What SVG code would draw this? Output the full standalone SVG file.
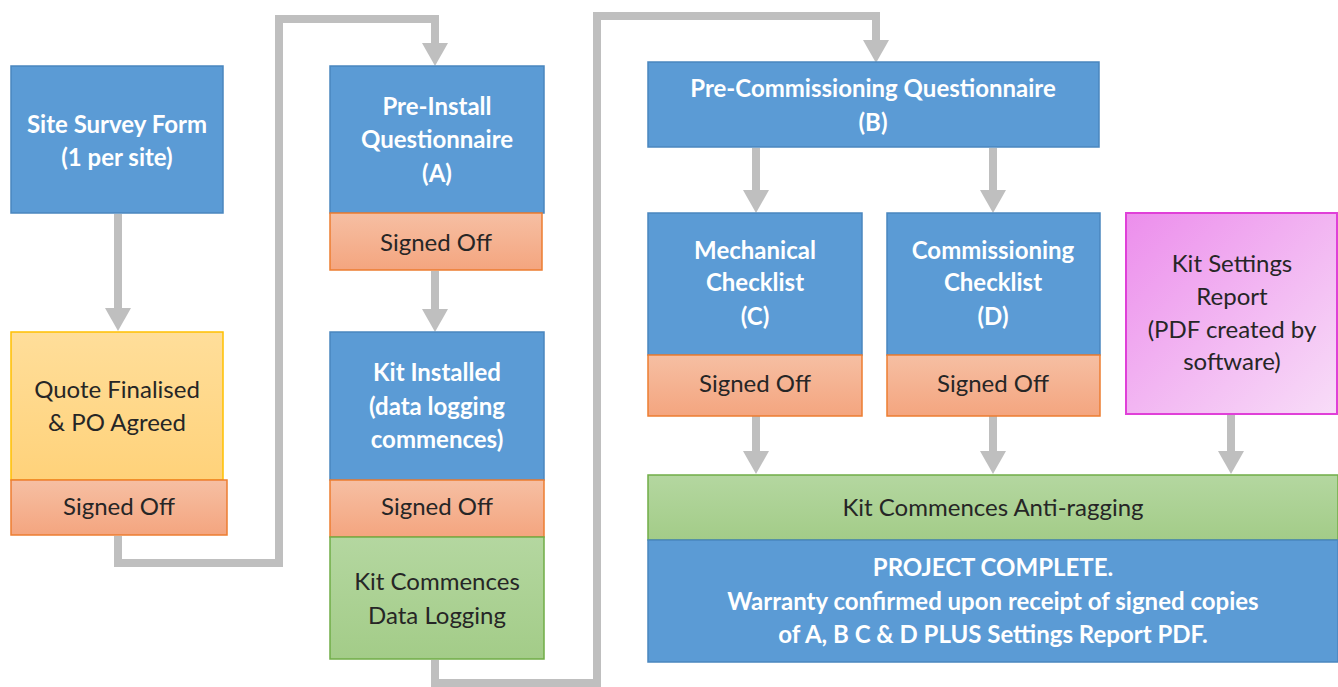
<svg xmlns="http://www.w3.org/2000/svg" width="1338" height="687" viewBox="0 0 1338 687">
<defs>
<style>
.blue{fill:#5B9BD5;stroke:#4A86BE;stroke-width:1.5}
.sal{fill:url(#gSal);stroke:#ED7D31;stroke-width:1.5}
.yel{fill:url(#gYel);stroke:#FFC000;stroke-width:1.5}
.grn{fill:url(#gGrn);stroke:#70AD47;stroke-width:1.5}
.pnk{fill:url(#gPnk);stroke:#E040D8;stroke-width:2}
.tw{font-family:Lato,"Liberation Sans",sans-serif;font-size:24px;font-weight:bold;fill:#FFFFFF;text-anchor:middle}
.td{font-family:Lato,"Liberation Sans",sans-serif;font-size:24px;fill:#262626;text-anchor:middle}
.conn{fill:none;stroke:#BFBFBF;stroke-width:8;marker-end:url(#ah)}
</style>
<linearGradient id="gSal" x1="0" y1="0" x2="0" y2="1"><stop offset="0" stop-color="#F6BFA3"/><stop offset="1" stop-color="#F4A57F"/></linearGradient>
<linearGradient id="gYel" x1="0" y1="0" x2="0" y2="1"><stop offset="0" stop-color="#FFDE9A"/><stop offset="1" stop-color="#FFD27A"/></linearGradient>
<linearGradient id="gGrn" x1="0" y1="0" x2="0" y2="1"><stop offset="0" stop-color="#B4D7A0"/><stop offset="1" stop-color="#A3CC88"/></linearGradient>
<linearGradient id="gPnk" x1="0" y1="0" x2="1" y2="1"><stop offset="0" stop-color="#EC8EEC"/><stop offset="1" stop-color="#F8DDF8"/></linearGradient>
<marker id="ah" markerUnits="userSpaceOnUse" markerWidth="24" markerHeight="26" refX="0" refY="13" orient="auto">
<path d="M0,0 L23,13 L0,26 z" fill="#BFBFBF"/>
</marker>
</defs>
<rect width="1338" height="687" fill="#FFFFFF"/>

<g id="connectors">
<path class="conn" d="M118,214 V308"/>
<path class="conn" d="M435,271 V309"/>
<path class="conn" d="M118,536 V563 H279 V19 H435 V43"/>
<path class="conn" d="M435,660 V683 H597 V16 H876 V40"/>
<path class="conn" d="M756,148 V190"/>
<path class="conn" d="M993,148 V190"/>
<path class="conn" d="M756,416 V451"/>
<path class="conn" d="M993,416 V451"/>
<path class="conn" d="M1231,415 V451"/>
</g>

<g id="site-survey">
<rect class="blue" x="11" y="66" width="212" height="147"/>
<text class="tw" x="117" y="133">Site Survey Form</text>
<text class="tw" x="117" y="166">(1 per site)</text>
</g>

<g id="quote">
<rect class="yel" x="11" y="332" width="212" height="148"/>
<text class="td" x="117" y="398">Quote Finalised</text>
<text class="td" x="117" y="431">&amp; PO Agreed</text>
</g>

<g id="signed-off-1">
<rect class="sal" x="11" y="480" width="216" height="55"/>
<text class="td" x="119" y="515">Signed Off</text>
</g>

<g id="pre-install">
<rect class="blue" x="330" y="66" width="214" height="147"/>
<text class="tw" x="437" y="115">Pre-Install</text>
<text class="tw" x="437" y="148">Questionnaire</text>
<text class="tw" x="437" y="182">(A)</text>
</g>

<g id="signed-off-a">
<rect class="sal" x="330" y="213" width="212" height="57"/>
<text class="td" x="436" y="251">Signed Off</text>
</g>

<g id="kit-installed">
<rect class="blue" x="330" y="332" width="214" height="148"/>
<text class="tw" x="437" y="381">Kit Installed</text>
<text class="tw" x="437" y="415">(data logging</text>
<text class="tw" x="437" y="448">commences)</text>
</g>

<g id="signed-off-2">
<rect class="sal" x="330" y="480" width="214" height="57"/>
<text class="td" x="437" y="515">Signed Off</text>
</g>

<g id="data-logging">
<rect class="grn" x="330" y="537" width="214" height="122"/>
<text class="td" x="437" y="590">Kit Commences</text>
<text class="td" x="437" y="624">Data Logging</text>
</g>

<g id="pre-commissioning">
<rect class="blue" x="648" y="62" width="451" height="85"/>
<text class="tw" x="873" y="97">Pre-Commissioning Questionnaire</text>
<text class="tw" x="873" y="131">(B)</text>
</g>

<g id="mechanical">
<rect class="blue" x="648" y="213" width="214" height="142"/>
<text class="tw" x="755" y="259">Mechanical</text>
<text class="tw" x="755" y="291">Checklist</text>
<text class="tw" x="755" y="325">(C)</text>
</g>

<g id="signed-off-c">
<rect class="sal" x="648" y="355" width="214" height="61"/>
<text class="td" x="755" y="392">Signed Off</text>
</g>

<g id="commissioning">
<rect class="blue" x="887" y="213" width="213" height="142"/>
<text class="tw" x="993" y="259">Commissioning</text>
<text class="tw" x="993" y="291">Checklist</text>
<text class="tw" x="993" y="325">(D)</text>
</g>

<g id="signed-off-d">
<rect class="sal" x="887" y="355" width="213" height="61"/>
<text class="td" x="993" y="392">Signed Off</text>
</g>

<g id="kit-settings">
<rect class="pnk" x="1126" y="213" width="211" height="201"/>
<text class="td" x="1232" y="272">Kit Settings</text>
<text class="td" x="1232" y="305">Report</text>
<text class="td" x="1232" y="338">(PDF created by</text>
<text class="td" x="1232" y="370">software)</text>
</g>

<g id="anti-ragging">
<rect class="grn" x="648" y="475" width="690" height="65"/>
<text class="td" x="993" y="516">Kit Commences Anti-ragging</text>
</g>

<g id="project-complete">
<rect class="blue" x="648" y="540" width="690" height="122"/>
<text class="tw" x="993" y="576">PROJECT COMPLETE.</text>
<text class="tw" x="993" y="610">Warranty confirmed upon receipt of signed copies</text>
<text class="tw" x="993" y="643">of A, B C &amp; D PLUS Settings Report PDF.</text>
</g>
</svg>
